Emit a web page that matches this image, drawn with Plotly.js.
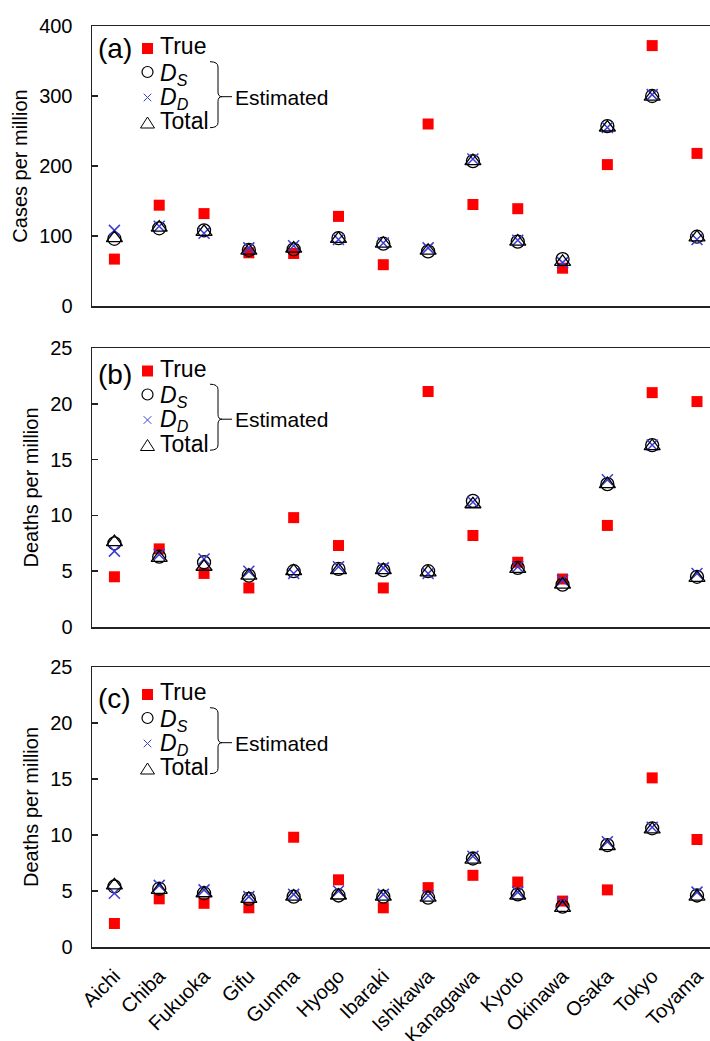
<!DOCTYPE html>
<html>
<head>
<meta charset="utf-8">
<script src="https://cdn.plot.ly/plotly-3.0.1.min.js"></script>
<style>html,body{margin:0;padding:0;background:#fff;}#chart{width:710px;height:1041px;}</style>
</head>
<body>
<div id="chart"></div>
<script>
// ---------- data ----------
const categories = ['Aichi','Chiba','Fukuoka','Gifu','Gunma','Hyogo','Ibaraki','Ishikawa','Kanagawa','Kyoto','Okinawa','Osaka','Tokyo','Toyama'];

// (a) cases per million
const casesTrue  = [67, 144, 132, 76, 75, 128, 59, 260, 145, 139, 54, 202, 372, 218];
const casesDS    = [96, 111, 108, 80, 81, 97, 89, 78, 207, 92, 67, 257, 300, 99];
const casesDD    = [108, 114, 104, 83, 86, 95, 90, 83, 210, 94, 62, 255, 302, 95];
const casesTotal = [97, 112, 106, 79, 82, 96, 89, 79, 207, 92, 63, 255, 299, 98];

// (b) deaths per million
const deathsBTrue  = [4.5, 7.0, 4.8, 3.5, 9.8, 7.3, 3.5, 21.1, 8.2, 5.8, 4.3, 9.1, 21.0, 20.2];
const deathsBDS    = [7.5, 6.3, 5.8, 4.6, 5.0, 5.2, 5.1, 5.0, 11.3, 5.3, 3.8, 12.8, 16.3, 4.5];
const deathsBDD    = [6.8, 6.5, 6.1, 5.0, 4.8, 5.4, 5.3, 4.8, 11.2, 5.4, 4.2, 13.2, 16.3, 4.8];
const deathsBTotal = [7.6, 6.2, 5.4, 4.6, 5.0, 5.1, 5.1, 4.9, 11.0, 5.2, 3.8, 12.8, 16.2, 4.4];

// (c) deaths per million
const deathsCTrue  = [2.1, 4.3, 3.9, 3.5, 9.8, 6.0, 3.5, 5.3, 6.4, 5.8, 4.1, 5.1, 15.1, 9.6];
const deathsCDS    = [5.4, 5.2, 4.8, 4.3, 4.5, 4.6, 4.5, 4.4, 7.9, 4.7, 3.6, 9.1, 10.6, 4.6];
const deathsCDD    = [4.8, 5.5, 5.1, 4.5, 4.7, 5.0, 4.7, 4.6, 8.1, 4.9, 4.0, 9.4, 10.7, 4.9];
const deathsCTotal = [5.5, 5.1, 4.8, 4.3, 4.5, 4.6, 4.5, 4.4, 7.8, 4.6, 3.5, 9.0, 10.5, 4.5];

const panelLabels = ['(a)', '(b)', '(c)'];
const yTitles = ['Cases per million', 'Deaths per million', 'Deaths per million'];
const seriesNames = ['True', '<i>D</i><sub><i>S</i></sub>', '<i>D</i><sub><i>D</i></sub>', 'Total'];
const estimatedLabel = 'Estimated';

// ---------- styling ----------
const FONT = 'Liberation Sans, Arial, sans-serif';
const RED = '#ff0000';
const BLUE = '#3b3bd6';
const BLACK = '#000000';

const panels = [
  {x:'x',  y:'y',  data:[casesTrue, casesDS, casesDD, casesTotal]},
  {x:'x2', y:'y2', data:[deathsBTrue, deathsBDS, deathsBDD, deathsBTotal]},
  {x:'x3', y:'y3', data:[deathsCTrue, deathsCDS, deathsCDD, deathsCTotal]}
];

const traces = [];
panels.forEach(p => {
  traces.push({type:'scatter', mode:'markers', x:categories, y:p.data[0], xaxis:p.x, yaxis:p.y, name:'True', showlegend:false,
    marker:{symbol:'square', size:11, color:RED, line:{width:0}}});
  traces.push({type:'scatter', mode:'markers', x:categories, y:p.data[1], xaxis:p.x, yaxis:p.y, name:'D_S', showlegend:false,
    marker:{symbol:'circle-open', size:13, color:BLACK, line:{width:1.3, color:BLACK}}});
  traces.push({type:'scatter', mode:'markers', x:categories, y:p.data[2], xaxis:p.x, yaxis:p.y, name:'D_D', showlegend:false,
    marker:{symbol:'x-thin-open', size:11, color:BLUE, line:{width:1.5, color:BLUE}}});
  traces.push({type:'scatter', mode:'markers', x:categories, y:p.data[3], xaxis:p.x, yaxis:p.y, name:'Total', showlegend:false,
    marker:{symbol:'triangle-up-open', size:14, color:BLACK, line:{width:1.3, color:BLACK}}});
});

// ---------- layout geometry ----------
const W = 710, H = 1041;
const mL = 92, mR = 0, mT = 26, mB = 94;
const plotW = W - mL - mR, plotH = H - mT - mB;
const panelTops = [26, 348, 667];
const panelBots = [306, 627, 947];
const legendShift = [0, 0.5, 5];
const px = v => (v - mL) / plotW;
const py = v => (H - mB - v) / plotH;

const axisLine = {showline:true, linecolor:'#222', linewidth:1.5};
const xBase = Object.assign({}, axisLine, {
  type:'category', range:[-0.5, 13.29], mirror:true, ticks:'', showgrid:false, zeroline:false,
  tickfont:{family:FONT, size:20, color:BLACK}, tickangle:-45, ticklabelstandoff:8
});
const yBase = Object.assign({}, axisLine, {
  mirror:false, ticks:'inside', ticklen:6, tickwidth:1.5, tickcolor:'#222', showgrid:false, zeroline:false,
  tickfont:{family:FONT, size:20, color:BLACK}, ticklabelstandoff:14
});

const layout = {
  width:W, height:H, margin:{l:mL, r:mR, t:mT, b:mB},
  paper_bgcolor:'#fff', plot_bgcolor:'#fff', showlegend:false,
  font:{family:FONT, color:BLACK},
  annotations:[], shapes:[]
};

const yRanges = [[0,400],[0,25],[0,25]];
const yDticks = [100,5,5];
['', '2', '3'].forEach((s, i) => {
  const dom = [py(panelBots[i]), py(panelTops[i])];
  layout['xaxis' + s] = Object.assign({}, xBase, {anchor:'y' + s, domain:[0,1], showticklabels: i === 2});
  if (i > 0) layout['xaxis' + s].matches = 'x';
  layout['yaxis' + s] = Object.assign({}, yBase, {
    anchor:'x' + s, domain:dom, range:yRanges[i], dtick:yDticks[i], tick0:0,
    title:{text:yTitles[i], font:{family:FONT, size:20, color:BLACK}, standoff:6}
  });
});

// ---------- in-panel legends ----------
panelTops.forEach((top, i) => {
  const t = top + legendShift[i];
  const A = layout.annotations, S = layout.shapes;
  const txt = (text, xl, yc, size) => A.push({xref:'paper', yref:'paper', x:px(xl), y:py(t + yc), xanchor:'left', yanchor:'middle',
    text:text, showarrow:false, font:{family:FONT, size:size, color:BLACK}});
  txt(panelLabels[i], 96, 22 + (i ? 4 : 0), 28);
  txt(seriesNames[0], 158, 20, 23);
  txt(seriesNames[1], 158, 48, 23);
  txt(seriesNames[2], 158, 72, 23);
  txt(seriesNames[3], 158, 95, 23);
  txt(estimatedLabel, 233, 71, 21);

  // red square
  S.push({type:'rect', xref:'paper', yref:'paper', x0:px(142), x1:px(153), y0:py(t+17), y1:py(t+28), fillcolor:RED, line:{width:0}});
  // circle
  S.push({type:'circle', xref:'paper', yref:'paper', x0:px(142), x1:px(153), y0:py(t+40.5), y1:py(t+51.5), line:{color:BLACK, width:1.2}});
  // x
  const xc = 147.5, yc = t + 71.5, r = 3.8;
  S.push({type:'path', xref:'paper', yref:'paper', path:`M${px(xc-r)},${py(yc-r)} L${px(xc+r)},${py(yc+r)} M${px(xc-r)},${py(yc+r)} L${px(xc+r)},${py(yc-r)}`, line:{color:BLUE, width:1}});
  // triangle
  S.push({type:'path', xref:'paper', yref:'paper', path:`M${px(140.5)},${py(t+102)} L${px(154.5)},${py(t+102)} L${px(147.5)},${py(t+91)} Z`, line:{color:BLACK, width:1}});
  // bracket
  const b = (x, y) => `${px(x)},${py(t + y)}`;
  S.push({type:'path', xref:'paper', yref:'paper',
    path:`M${b(210,35.7)} Q${b(218,35.7)} ${b(218,41)} L${b(218,66)} Q${b(218,70.7)} ${b(222,70.7)} Q${b(218,70.7)} ${b(218,75.5)} L${b(218,96.5)} Q${b(218,101.7)} ${b(210,101.7)}`,
    line:{color:BLACK, width:1}});
  S.push({type:'line', xref:'paper', yref:'paper', x0:px(222), x1:px(232), y0:py(t+70.7), y1:py(t+70.7), line:{color:BLACK, width:1}});
});

Plotly.newPlot('chart', traces, layout, {staticPlot:true, displayModeBar:false});
</script>
</body>
</html>
